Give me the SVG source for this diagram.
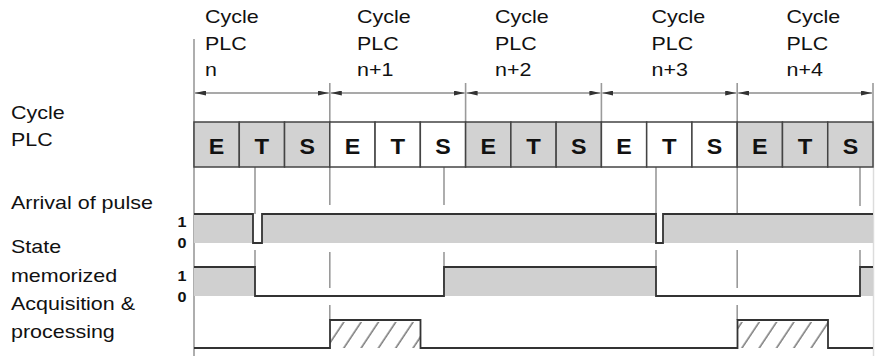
<svg xmlns="http://www.w3.org/2000/svg" width="875" height="356" viewBox="0 0 875 356">
<style>
.lbl{font-family:"Liberation Sans",Arial,sans-serif;font-size:18.5px;fill:#111}
.cell{font-family:"Liberation Sans",Arial,sans-serif;font-size:22px;font-weight:bold;fill:#111;text-anchor:middle}
.lvl{font-family:"Liberation Sans",Arial,sans-serif;font-size:14px;font-weight:bold;fill:#111}
.g{fill:#d2d2d2;stroke:#444;stroke-width:1.5}
.w{fill:#fff;stroke:#444;stroke-width:1.5}
.guide{stroke:#9a9a9a;stroke-width:1.6;fill:none}
.sig{stroke:#333;stroke-width:1.8;fill:none;stroke-linejoin:miter}
.band{fill:#d0d0d0}
.arr{stroke:#555;stroke-width:1.1;fill:none;marker-start:url(#ah);marker-end:url(#ah)}
</style>
<defs>
<marker id="ah" viewBox="0 0 11 5" refX="11" refY="2.5" markerWidth="11" markerHeight="5" markerUnits="userSpaceOnUse" orient="auto-start-reverse">
<path d="M0,0 L11,2.5 L0,5 z" fill="#333"/>
</marker>
<pattern id="hatch" patternUnits="userSpaceOnUse" width="14.4" height="40" patternTransform="translate(330,0) rotate(33.7)">
<line x1="3" y1="0" x2="3" y2="40" stroke="#444" stroke-width="1.1"/>
</pattern>
</defs>
<rect width="875" height="356" fill="#fff"/>

<g id="header">
<g class="lbl">
<text x="205" y="23" textLength="53.7" lengthAdjust="spacingAndGlyphs">Cycle</text>
<text x="205" y="50" textLength="41.7" lengthAdjust="spacingAndGlyphs">PLC</text>
<text x="205" y="76" textLength="11.9" lengthAdjust="spacingAndGlyphs">n</text>
<text x="357" y="23" textLength="53.7" lengthAdjust="spacingAndGlyphs">Cycle</text>
<text x="357" y="50" textLength="41.7" lengthAdjust="spacingAndGlyphs">PLC</text>
<text x="357" y="76" textLength="36.4" lengthAdjust="spacingAndGlyphs">n+1</text>
<text x="495" y="23" textLength="53.7" lengthAdjust="spacingAndGlyphs">Cycle</text>
<text x="495" y="50" textLength="41.7" lengthAdjust="spacingAndGlyphs">PLC</text>
<text x="495" y="76" textLength="36.4" lengthAdjust="spacingAndGlyphs">n+2</text>
<text x="651.5" y="23" textLength="53.7" lengthAdjust="spacingAndGlyphs">Cycle</text>
<text x="651.5" y="50" textLength="41.7" lengthAdjust="spacingAndGlyphs">PLC</text>
<text x="651.5" y="76" textLength="36.4" lengthAdjust="spacingAndGlyphs">n+3</text>
<text x="786.5" y="23" textLength="53.7" lengthAdjust="spacingAndGlyphs">Cycle</text>
<text x="786.5" y="50" textLength="41.7" lengthAdjust="spacingAndGlyphs">PLC</text>
<text x="786.5" y="76" textLength="36.4" lengthAdjust="spacingAndGlyphs">n+4</text>
</g>
</g>

<g id="row-labels" class="lbl">
<text x="11" y="119" textLength="53.7" lengthAdjust="spacingAndGlyphs">Cycle</text>
<text x="11" y="146" textLength="41.7" lengthAdjust="spacingAndGlyphs">PLC</text>
<text x="11" y="208.5" textLength="141.9" lengthAdjust="spacingAndGlyphs">Arrival of pulse</text>
<text x="11" y="253" textLength="50.1" lengthAdjust="spacingAndGlyphs">State</text>
<text x="11" y="281.5" textLength="106.1" lengthAdjust="spacingAndGlyphs">memorized</text>
<text x="11" y="310" textLength="124" lengthAdjust="spacingAndGlyphs">Acquisition &amp;</text>
<text x="11" y="338" textLength="103.8" lengthAdjust="spacingAndGlyphs">processing</text>
</g>

<g id="levels" class="lvl">
<text x="177.5" y="227" textLength="9" lengthAdjust="spacingAndGlyphs">1</text>
<text x="177.5" y="248" textLength="9" lengthAdjust="spacingAndGlyphs">0</text>
<text x="177.5" y="281" textLength="9" lengthAdjust="spacingAndGlyphs">1</text>
<text x="177.5" y="302" textLength="9" lengthAdjust="spacingAndGlyphs">0</text>
</g>

<g id="connectors">
<line class="guide" x1="194" y1="39" x2="194" y2="356" stroke-width="2"/>
<line class="guide" x1="329.8" y1="83" x2="329.8" y2="122" stroke-width="2"/>
<line class="guide" x1="465.6" y1="83" x2="465.6" y2="122" stroke-width="2"/>
<line class="guide" x1="601.4" y1="83" x2="601.4" y2="122" stroke-width="2"/>
<line class="guide" x1="737.2" y1="83" x2="737.2" y2="122" stroke-width="2"/>
<line class="guide" x1="873" y1="83" x2="873" y2="122" stroke-width="2"/>
<line x1="873.5" y1="122" x2="873.5" y2="356" stroke="#dcdcdc" stroke-width="1.5"/>
<line class="arr" x1="195" y1="93" x2="328.8" y2="93"/>
<line class="arr" x1="330.8" y1="93" x2="464.6" y2="93"/>
<line class="arr" x1="466.6" y1="93" x2="600.4" y2="93"/>
<line class="arr" x1="602.4" y1="93" x2="736.2" y2="93"/>
<line class="arr" x1="738.2" y1="93" x2="872" y2="93"/>
<path class="guide" d="M255,167 V214 M255,250 V267"/>
<path class="guide" d="M329.8,167 V205 M329.8,252 V288 M329.8,305 V320"/>
<path class="guide" d="M444,167 V205 M444,252 V288"/>
<path class="guide" d="M656,167 V214 M656,250 V267"/>
<path class="guide" d="M737.2,167 V233 M737.2,250 V288 M737.2,305 V320"/>
<path class="guide" d="M860,167 V206 M860,250 V267"/>
</g>

<g id="cycle-row">
<rect class="g" x="194" y="122" width="45.27" height="45"/>
<rect class="g" x="239.27" y="122" width="45.27" height="45"/>
<rect class="g" x="284.53" y="122" width="45.27" height="45"/>
<rect class="w" x="329.8" y="122" width="45.27" height="45"/>
<rect class="w" x="375.07" y="122" width="45.27" height="45"/>
<rect class="w" x="420.33" y="122" width="45.27" height="45"/>
<rect class="g" x="465.6" y="122" width="45.27" height="45"/>
<rect class="g" x="510.87" y="122" width="45.27" height="45"/>
<rect class="g" x="556.13" y="122" width="45.27" height="45"/>
<rect class="w" x="601.4" y="122" width="45.27" height="45"/>
<rect class="w" x="646.67" y="122" width="45.27" height="45"/>
<rect class="w" x="691.93" y="122" width="45.27" height="45"/>
<rect class="g" x="737.2" y="122" width="45.27" height="45"/>
<rect class="g" x="782.47" y="122" width="45.27" height="45"/>
<rect class="g" x="827.73" y="122" width="45.27" height="45"/>
<g class="cell">
<text x="216.6" y="153.5" textLength="15.5" lengthAdjust="spacingAndGlyphs">E</text>
<text x="261.9" y="153.5" textLength="14.6" lengthAdjust="spacingAndGlyphs">T</text>
<text x="307.2" y="153.5" textLength="15.5" lengthAdjust="spacingAndGlyphs">S</text>
<text x="352.4" y="153.5" textLength="15.5" lengthAdjust="spacingAndGlyphs">E</text>
<text x="397.7" y="153.5" textLength="14.6" lengthAdjust="spacingAndGlyphs">T</text>
<text x="443" y="153.5" textLength="15.5" lengthAdjust="spacingAndGlyphs">S</text>
<text x="488.2" y="153.5" textLength="15.5" lengthAdjust="spacingAndGlyphs">E</text>
<text x="533.5" y="153.5" textLength="14.6" lengthAdjust="spacingAndGlyphs">T</text>
<text x="578.8" y="153.5" textLength="15.5" lengthAdjust="spacingAndGlyphs">S</text>
<text x="624" y="153.5" textLength="15.5" lengthAdjust="spacingAndGlyphs">E</text>
<text x="669.3" y="153.5" textLength="14.6" lengthAdjust="spacingAndGlyphs">T</text>
<text x="714.6" y="153.5" textLength="15.5" lengthAdjust="spacingAndGlyphs">S</text>
<text x="759.8" y="153.5" textLength="15.5" lengthAdjust="spacingAndGlyphs">E</text>
<text x="805.1" y="153.5" textLength="14.6" lengthAdjust="spacingAndGlyphs">T</text>
<text x="850.4" y="153.5" textLength="15.5" lengthAdjust="spacingAndGlyphs">S</text>
</g>
</g>

<g id="pulse">
<path class="band" d="M194,214 H253 V243 H262 V214 H656 V243 H663 V214 H873 V243 H194 z"/>
<path class="sig" d="M194,214 H253 V243 H262 V214 H656 V243 H663 V214 H873"/>
</g>

<g id="state">
<rect class="band" x="194" y="267" width="61" height="29"/>
<rect class="band" x="444" y="267" width="212" height="29"/>
<rect class="band" x="860" y="267" width="13" height="29"/>
<path class="sig" d="M194,267 H255 V296 H444 V267 H656 V296 H860 V267 H873"/>
</g>

<g id="acquisition">
<rect x="330" y="322" width="90.5" height="26" fill="url(#hatch)"/>
<rect x="737.5" y="322" width="90.5" height="26" fill="url(#hatch)"/>
<path class="sig" d="M194,348 H330 V320 H420.5 V348 H737.5 V320 H828 V348 H873"/>
</g>
</svg>
